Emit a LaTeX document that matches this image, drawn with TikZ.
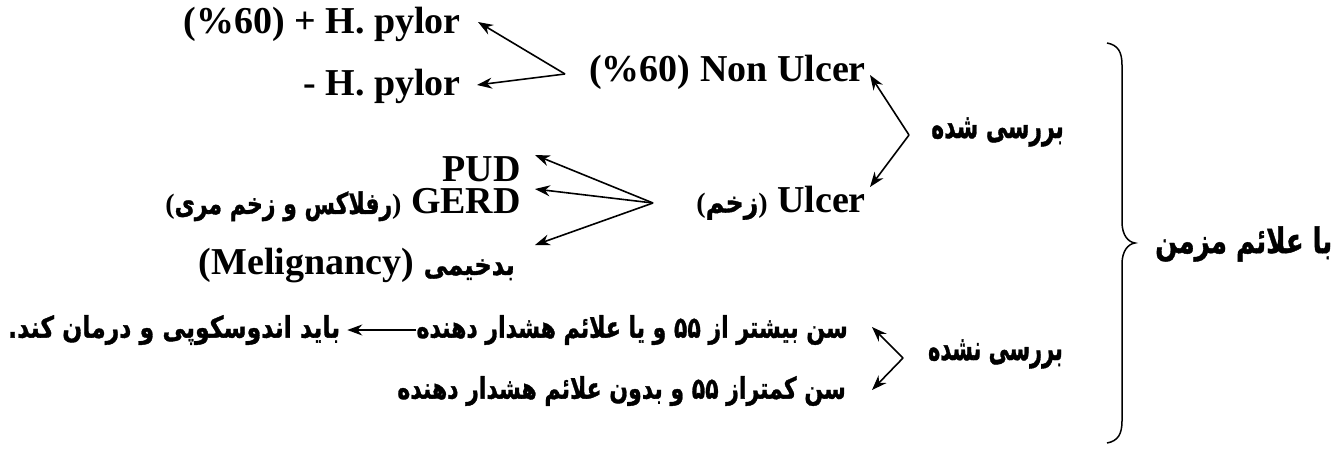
\documentclass[tikz,border=0pt]{standalone}
\usepackage{fontspec}
\usepackage{graphicx}
\setmainfont{Liberation Serif}
\newfontfamily\fa[Script=Arabic, BoldFeatures={FakeBold=1.2}]{DejaVu Sans}
\TeXXeTstate=1
\usetikzlibrary{arrows.meta}
\newcommand\pr[2][1]{\scalebox{#1}[1.35]{\beginR #2\endR}}
\newcommand\farsmall{\fa\bfseries\fontsize{22}{26}\selectfont}
\newcommand\parfont{\rmfamily\bfseries\fontsize{28}{30}\selectfont}
\newcommand\inpar[2][1]{{\parfont(}{\farsmall\pr[#1]{#2}}{\parfont)}}
\begin{document}
\begin{tikzpicture}[x=1pt,y=-1pt,
  lat/.style={font=\bfseries\fontsize{38}{42}\selectfont, inner sep=0pt, anchor=east},
  per/.style={font=\fa\bfseries\fontsize{22}{26}\selectfont, inner sep=0pt, anchor=east},
  perbig/.style={font=\fa\bfseries\fontsize{26}{30}\selectfont, inner sep=0pt, anchor=east},
  arr/.style={line width=1.6pt, -{Stealth[length=15pt,width=11pt]}}]
\useasboundingbox (0,0) rectangle (1338,448);
% Latin column
\node[lat] (hp1) at (461,24) {(\%60) + H. pylor};
\node[lat] (hp2) at (461,86) {- H. pylor};
\node[lat] (nu) at (866,72) {(\%60) Non Ulcer};
\node[lat] (ul) at (866,203) {\inpar[1.15]{زخم} Ulcer};
\node[lat] (pud) at (521,169) {PUD};
\node[lat] (gerd) at (521,205) {\inpar{رفلاکس و زخم مری} GERD};
\node[lat] (mel) at (515,266) {(Melignancy) {\farsmall\pr[1.1]{بدخیمی}}};
% right labels
\node[perbig] (bs) at (1064,132) {\pr[0.84]{بررسی شده}};
\node[perbig] (bn) at (1063,354) {\pr[0.8]{بررسی نشده}};
\node[perbig, anchor=west] (ba) at (1155,244) {\pr{با علائم مزمن}};
% bottom rows
\node[per] (b1) at (848,330) {\pr{سن بیشتر از ۵۵ و یا علائم هشدار دهنده}};
\node[per] (b2) at (846,391) {\pr{سن کمتراز ۵۵ و بدون علائم هشدار دهنده}};
\node[per, anchor=west] (bt) at (8,330) {\pr[1.07]{باید اندوسکوپی و درمان کند.}};
% vertices
\coordinate (vh) at (565,74);
\coordinate (vn) at (909,135);
\coordinate (vu) at (653,203);
\coordinate (vb) at (903,358);
% arrows
\draw[arr] (vh) -- ([shift={(17,-2)}]hp1.east);
\draw[arr] (vh) -- ([shift={(16,-1)}]hp2.east);
\draw[arr] (vn) -- ([shift={(4,3)}]nu.east);
\draw[arr] (vn) -- ([shift={(4,-16)}]ul.east);
\draw[arr] (vu) -- ([shift={(14,-14)}]pud.east);
\draw[arr] (vu) -- ([shift={(14,-16)}]gerd.east);
\draw[arr] (vu) -- ([shift={(20,-21)}]mel.east);
\draw[arr] (vb) -- ([shift={(24,-3)}]b1.east);
\draw[arr] (vb) -- ([shift={(26,-1)}]b2.east);
\draw[arr, shorten >=7pt] (b1.west) -- (bt.east);
% brace
\draw[line width=1.5pt] (1107,43) .. controls (1118,45) and (1122,52) .. (1122,65)
  -- (1122,222) .. controls (1122,235) and (1128,242) .. (1135,243)
  .. controls (1128,244) and (1122,251) .. (1122,264)
  -- (1122,421) .. controls (1122,434) and (1118,441) .. (1107,443);
\end{tikzpicture}
\end{document}
